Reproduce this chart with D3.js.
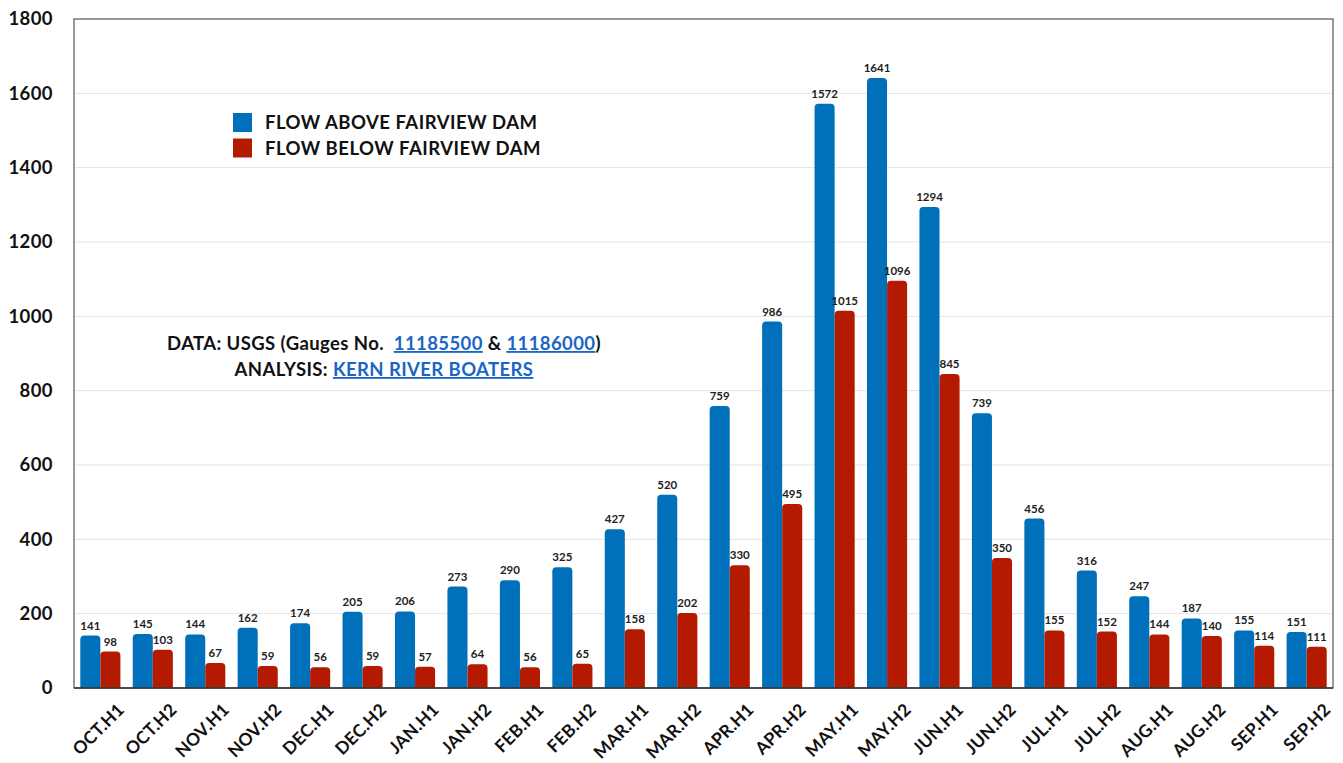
<!DOCTYPE html>
<html><head><meta charset="utf-8">
<script src="https://cdn.jsdelivr.net/npm/d3@7"></script>
<style>body{margin:0;background:#fff;} text{font-family:Lato,"Open Sans",sans-serif;}</style>
</head><body>
<svg id="c" width="1343" height="763"></svg>
<script>
const categories = ["OCT.H1","OCT.H2","NOV.H1","NOV.H2","DEC.H1","DEC.H2","JAN.H1","JAN.H2","FEB.H1","FEB.H2","MAR.H1","MAR.H2","APR.H1","APR.H2","MAY.H1","MAY.H2","JUN.H1","JUN.H2","JUL.H1","JUL.H2","AUG.H1","AUG.H2","SEP.H1","SEP.H2"];
const flowAbove = [141,145,144,162,174,205,206,273,290,325,427,520,759,986,1572,1641,1294,739,456,316,247,187,155,151];
const flowBelow = [98,103,67,59,56,59,57,64,56,65,158,202,330,495,1015,1096,845,350,155,152,144,140,114,111];
const seriesNames = ["FLOW ABOVE FAIRVIEW DAM","FLOW BELOW FAIRVIEW DAM"];
const yTicks = [0,200,400,600,800,1000,1200,1400,1600,1800];
const colors = ["#0070ba","#b31a00"];

const svg = d3.select("#c");
const m = {l:74, r:1333, t:19, b:688};
const x = d3.scaleBand().domain(categories).range([m.l, m.r]).paddingInner(0.235).paddingOuter(0.12);
const sub = d3.scaleBand().domain([0,1]).range([0, x.bandwidth()]);
const y = d3.scaleLinear().domain([0,1800]).range([m.b, m.t]);

// grid
svg.append("g").selectAll("line").data(yTicks.slice(1,-1)).join("line")
  .attr("x1", m.l).attr("x2", m.r).attr("y1", d=>y(d)).attr("y2", d=>y(d))
  .attr("stroke","#e3e3e3").attr("stroke-width",1);

// y axis labels
const ya = svg.append("g").attr("transform",`translate(${m.l},0)`)
  .call(d3.axisLeft(y).tickValues(yTicks).tickFormat(d3.format("d")).tickSize(0).tickPadding(21));
ya.select(".domain").remove();
ya.selectAll("text").attr("font-size",18.5).attr("font-weight",700).attr("fill","#111")
  .style("font-family","Lato, sans-serif").attr("letter-spacing",0.4);

// bars with rounded tops
function barPath(x0, w, y0, y1, r) {
  r = Math.min(r, (y0 - y1), w/2);
  return `M${x0},${y0}V${y1+r}Q${x0},${y1} ${x0+r},${y1}H${x0+w-r}Q${x0+w},${y1} ${x0+w},${y1+r}V${y0}Z`;
}
const series = [flowAbove, flowBelow];
series.forEach((vals, si) => {
  const g = svg.append("g");
  g.selectAll("path").data(vals).join("path")
    .attr("d", (d,i) => barPath(x(categories[i]) + sub(si), sub.bandwidth(), y(0), y(d), 4))
    .attr("fill", colors[si]);
  g.selectAll("text").data(vals).join("text")
    .attr("x", (d,i) => x(categories[i]) + sub(si) + sub.bandwidth()/2)
    .attr("y", d => y(d) - 6)
    .attr("text-anchor","middle").attr("font-size",11.5).attr("font-weight",700).attr("fill","#222")
    .text(d=>d);
});

// frame
svg.append("rect").attr("x",m.l).attr("y",m.t).attr("width",m.r-m.l).attr("height",m.b-m.t)
  .attr("fill","none").attr("stroke","#555").attr("stroke-width",1.2);
svg.append("line").attr("x1",m.l).attr("x2",m.r).attr("y1",m.b).attr("y2",m.b).attr("stroke","#333").attr("stroke-width",1.5);

// x labels
const xa = svg.append("g").attr("transform",`translate(0,${m.b})`)
  .call(d3.axisBottom(x).tickSize(0).tickPadding(0));
xa.select(".domain").remove();
xa.selectAll("text")
  .attr("font-size",17.5).attr("font-weight",700).attr("fill","#111").style("font-family","Lato, sans-serif")
  .attr("letter-spacing",0.2)
  .attr("text-anchor","end").attr("y",0).attr("dy",0)
  .attr("transform","translate(25,23) rotate(-45)");

// legend
const lg = svg.append("g").attr("transform","translate(233,113)");
seriesNames.forEach((n,i)=>{
  lg.append("rect").attr("x",0).attr("y",i*25.5).attr("width",19).attr("height",19).attr("fill",colors[i]);
  lg.append("text").attr("x",32).attr("y",i*25.5+16).attr("font-size",18.5).attr("font-weight",700)
    .attr("letter-spacing",0.5).attr("fill","#111").text(n);
});

// annotation
const ann = svg.append("text").attr("x",384).attr("y",350).attr("text-anchor","middle").attr("font-size",18.5)
  .attr("font-weight",700).attr("letter-spacing",0.4).attr("fill","#111");
ann.append("tspan").text("DATA: USGS (Gauges No.\u00a0\u00a0");
ann.append("tspan").attr("fill","#1a66c6").attr("text-decoration","underline").text("11185500");
ann.append("tspan").text(" & ");
ann.append("tspan").attr("fill","#1a66c6").attr("text-decoration","underline").text("11186000");
ann.append("tspan").text(")");
const ann2 = svg.append("text").attr("x",384).attr("y",376).attr("text-anchor","middle").attr("font-size",18.5)
  .attr("font-weight",700).attr("letter-spacing",0.4).attr("fill","#111");
ann2.append("tspan").text("ANALYSIS: ");
ann2.append("tspan").attr("fill","#1a66c6").attr("text-decoration","underline").text("KERN RIVER BOATERS");
</script>
</body></html>
